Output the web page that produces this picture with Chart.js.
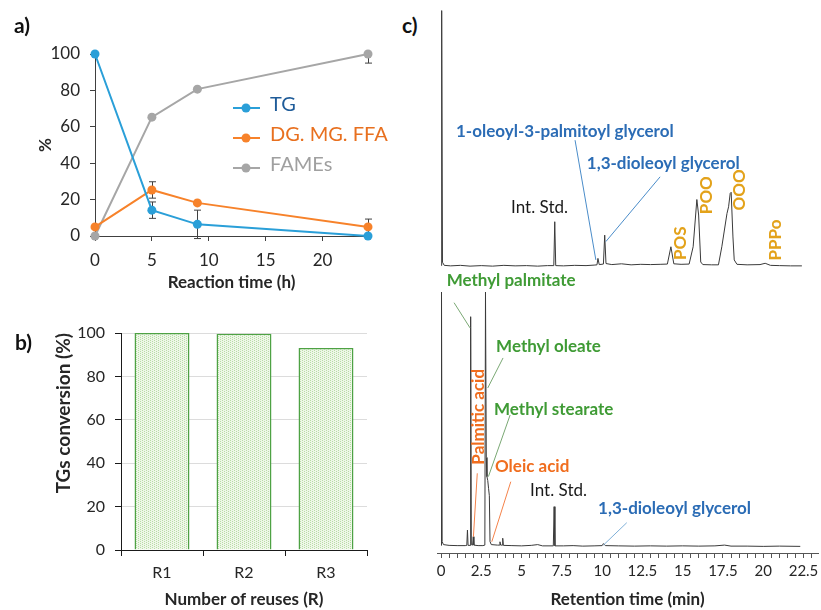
<!DOCTYPE html>
<html lang="en">
<head>
  <meta charset="UTF-8">
  <title>Transesterification kinetics, catalyst reuse and chromatograms</title>
  <script src="https://cdn.jsdelivr.net/npm/chart.js"></script>
  <style>
    body {
      margin: 0;
      background: #fff;
      font-family: Lato, sans-serif;
    }

    #wrap {
      position: relative;
      width: 821px;
      height: 610px;
      overflow: hidden;
    }

    canvas {
      position: absolute;
    }

    .tag {
      position: absolute;
      font: bold 21px Lato, sans-serif;
      color: #111;
      line-height: 25px;
    }
  </style>
</head>
<body>
  <div id="wrap">
    <canvas id="chartA" width="400" height="295" style="left:0;top:0"></canvas>
    <canvas id="chartB" width="400" height="315" style="left:0;top:295px"></canvas>
    <canvas id="chartTop" width="401" height="280" style="left:420px;top:0"></canvas>
    <canvas id="chartBottom" width="401" height="345" style="left:420px;top:265px"></canvas>
    <div class="tag" style="left:14px;top:12px">a)</div>
    <div class="tag" style="left:15px;top:329px">b)</div>
    <div class="tag" style="left:402px;top:12px">c)</div>
  </div>

  <script>
    // a) composition vs reaction time
    const reactionTimes = [0, 5, 9, 24];
    const tgValues = [100, 14.2, 6.4, 0];
    const tgErrors = [0, 4.5, 7.8, 0];
    const dgValues = [5, 25.3, 18.2, 5];
    const dgErrors = [0, 4.5, 0, 4.3];
    const fameValues = [0, 65.3, 80.7, 100];
    const fameErrors = [0, 0, 0, 5];
    const seriesNames = ['TG', 'DG. MG. FFA', 'FAMEs'];

    // b) catalyst reuse
    const reuseLabels = ['R1', 'R2', 'R3'];
    const conversionValues = [100, 99.7, 93.1];

    // c) chromatograms (retention time in min, relative signal)
    const retentionTickLabels = ['0', '2.5', '5', '7.5', '10', '12.5', '15', '17.5', '20', '22.5'];
    const retentionMinorStep = 0.5;
    const retentionMinorCount = 47;

    const topTimes = [0, 0.04, 0.09, 0.2, 0.6, 1.2, 1.8, 2.5, 3.2, 3.9, 4.6, 5.3, 6.0, 6.6,
      7.0, 7.06, 7.12, 7.6, 8.3, 9.0, 9.5, 9.68, 9.74, 9.82, 10.08, 10.16, 10.24, 10.6,
      11.2, 11.8, 12.4, 13.0, 13.6, 14.05, 14.27, 14.45, 14.9, 15.4, 15.65, 15.88, 15.99,
      16.12, 16.25, 16.8, 17.22, 17.43, 17.75, 17.85, 17.95, 18.01, 18.12, 18.2, 18.37,
      19.0, 19.8, 20.12, 20.45, 21.0, 21.7, 22.4];
    const topSignal = [0.3, 99, 1.5, 0.3, 0.1, 0.3, 0, 0.2, 0, 0.3, 0.1, 0.2, 0, 0.2,
      0.2, 17.2, 0.2, 0.1, 0.3, 0.2, 0.4, 0.5, 3.0, 0.6, 0.8, 12.0, 1.0, 0.6,
      0.9, 0.5, 0.7, 0.6, 0.7, 0.8, 7.5, 0.9, 0.7, 0.8, 7.5, 25.8, 19.8,
      1.6, 0.6, 0.5, 0.5, 7.5, 20.4, 23, 28.2, 28.6, 11.3, 2.4, 0.7,
      0.5, 0.6, 1.1, 0.3, 0.2, 0.1, 0.1];

    const bottomTimes = [0, 0.03, 0.07, 0.15, 0.5, 1.0, 1.5, 1.6, 1.64, 1.68, 1.8, 1.84, 1.88,
      1.96, 2.0, 2.04, 2.3, 2.6, 2.72, 2.76, 2.81, 2.85, 2.9, 2.95, 3.0, 3.04, 3.12, 3.5,
      3.62, 3.66, 3.7, 3.79, 3.83, 3.87, 4.4, 5.0, 5.6, 6.0, 6.3, 6.97, 7.02, 7.07, 7.6,
      8.2, 8.8, 9.5, 10.0, 10.08, 10.2, 11.0, 12.0, 13.0, 14.0, 15.0, 16.0, 17.0, 17.6,
      18.0, 19.0, 20.0, 21.0, 22.3];
    const bottomSignal = [0.5, 100, 2, 0.8, 0.5, 0.4, 0.4, 0.5, 6.5, 0.5, 0.5, 90.3, 0.8,
      0.6, 3.9, 0.6, 0.4, 0.4, 0.6, 100, 35, 27.5, 26, 22.9, 20, 2, 0.8, 0.6,
      0.6, 1.9, 0.6, 0.6, 3.3, 0.5, 0.4, 0.3, 0.5, 0.8, 0.3, 0.3, 15.7, 0.3, 0.3,
      0.4, 0.2, 0.3, 0.4, 1.2, 0.4, 0.3, 0.2, 0.3, 0.2, 0.3, 0.2, 0.3, 0.6,
      0.2, 0.2, 0.1, 0.2, 0.1];

    const BLUE = '#2b6cb5', GREEN = '#3f9b35', ORANGE = '#f06d1e', GOLD = '#e3a21a';
    const BOLD = 'bold 17px Lato', PLAIN = '17px Lato';

    // labels and leader lines for the chromatograms, placed in data units
    const topNotes = [
      { text: '1-oleoyl-3-palmitoyl glycerol', t: 0.93, v: 52.1, color: BLUE, font: BOLD },
      { text: '1,3-dioleoyl glycerol', t: 9.05, v: 39.8, color: BLUE, font: BOLD },
      { text: 'Int. Std.', t: 4.35, v: 22.9, color: '#1a1a1a', font: PLAIN },
      { text: 'POS', t: 14.84, v: 8.9, color: GOLD, font: BOLD, vertical: true },
      { text: 'POO', t: 16.5, v: 27.5, color: GOLD, font: BOLD, vertical: true },
      { text: 'OOO', t: 18.55, v: 29.5, color: GOLD, font: BOLD, vertical: true },
      { text: 'PPPo', t: 20.75, v: 10.1, color: GOLD, font: BOLD, vertical: true }
    ];
    const topLeaders = [
      { from: [8.32, 48.8], to: [9.61, 2.4], color: '#4a8cc9' },
      { from: [13.6, 34.6], to: [10.23, 9.5], color: '#4a8cc9' }
    ];
    const bottomNotes = [
      { text: 'Methyl palmitate', t: 0.35, v: 104.4, color: GREEN, font: BOLD },
      { text: 'Methyl oleate', t: 3.42, v: 78.5, color: GREEN, font: BOLD },
      { text: 'Palmitic acid', t: 2.32, v: 51.0, color: ORANGE, font: BOLD, vertical: true },
      { text: 'Methyl stearate', t: 3.29, v: 53.7, color: GREEN, font: BOLD },
      { text: 'Oleic acid', t: 3.35, v: 31.4, color: ORANGE, font: BOLD },
      { text: 'Int. Std.', t: 5.53, v: 22.0, color: '#1a1a1a', font: PLAIN },
      { text: '1,3-dioleoyl glycerol', t: 9.75, v: 15.0, color: BLUE, font: BOLD }
    ];
    const bottomLeaders = [
      { from: [0.81, 95.8], to: [1.8, 85.9], color: '#7aa874' },
      { from: [3.85, 74.1], to: [2.9, 62.3], color: '#7aa874' },
      { from: [2.25, 28.8], to: [2.01, 3.9], color: '#f4824a' },
      { from: [4.29, 51.7], to: [2.94, 27.5], color: '#7aa874' },
      { from: [4.33, 25.5], to: [3.15, 1.9], color: '#f4824a' },
      { from: [11.53, 9.4], to: [10.08, 0.6], color: '#7fb0d8' }
    ];

    Chart.defaults.font.family = 'Lato';
    Chart.defaults.color = '#262626';
    Chart.defaults.animation = false;
    Chart.defaults.plugins.legend.display = false;
    Chart.defaults.plugins.tooltip.enabled = false;

    const toPoints = (xs, ys) => xs.map((x, i) => ({ x: x, y: ys[i] }));

    // ---------- a) ----------
    const errorBars = {
      id: 'errorBars',
      beforeDatasetsDraw(chart) {
        const { ctx, chartArea, scales: { x, y } } = chart;
        ctx.save();
        ctx.beginPath();
        ctx.rect(chartArea.left - 10, chartArea.top, chartArea.width + 20, chartArea.height + 10);
        ctx.clip();
        ctx.strokeStyle = '#404040';
        ctx.lineWidth = 1;
        chart.data.datasets.forEach(ds => {
          ds.data.forEach((p, i) => {
            const e = ds.errors[i];
            if (!e) return;
            const px = Math.round(x.getPixelForValue(p.x)) + 0.5;
            const y1 = y.getPixelForValue(p.y + e);
            const y2 = y.getPixelForValue(p.y - e);
            ctx.beginPath();
            ctx.moveTo(px, y1); ctx.lineTo(px, y2);
            ctx.moveTo(px - 3.5, y1); ctx.lineTo(px + 3.5, y1);
            ctx.moveTo(px - 3.5, y2); ctx.lineTo(px + 3.5, y2);
            ctx.stroke();
          });
        });
        ctx.restore();
      }
    };

    const legendA = {
      id: 'legendA',
      afterDraw(chart) {
        const ctx = chart.ctx;
        const rows = [108, 138, 168];
        const textColors = ['#1f5c99', '#e8701f', '#a0a0a0'];
        ctx.save();
        chart.data.datasets.forEach((ds, i) => {
          const y = rows[i];
          ctx.strokeStyle = ds.borderColor;
          ctx.lineWidth = 2;
          ctx.beginPath();
          ctx.moveTo(233, y); ctx.lineTo(260, y);
          ctx.stroke();
          ctx.fillStyle = ds.borderColor;
          ctx.beginPath();
          ctx.arc(246, y, 4.5, 0, Math.PI * 2);
          ctx.fill();
          ctx.font = '20px Lato';
          ctx.fillStyle = textColors[i];
          ctx.textBaseline = 'middle';
          ctx.fillText(ds.label, 270, y - 3);
        });
        ctx.restore();
      }
    };

    function lineSet(label, values, errors, color) {
      return {
        label: label,
        data: toPoints(reactionTimes, values),
        errors: errors,
        borderColor: color,
        backgroundColor: color,
        borderWidth: 2,
        pointRadius: 4.5,
        pointBorderWidth: 0,
        tension: 0,
        clip: false
      };
    }

    new Chart(document.getElementById('chartA'), {
      type: 'line',
      data: {
        datasets: [
          lineSet(seriesNames[0], tgValues, tgErrors, '#2a9fd8'),
          lineSet(seriesNames[1], dgValues, dgErrors, '#f7822a'),
          lineSet(seriesNames[2], fameValues, fameErrors, '#a6a6a6')
        ]
      },
      options: {
        responsive: false,
        layout: { padding: { top: 54, right: 32, left: 0, bottom: 0 } },
        scales: {
          x: {
            type: 'linear',
            min: 0,
            max: 24,
            afterFit: s => { s.height = 59; },
            afterBuildTicks: s => { s.ticks = s.ticks.filter(t => t.value % 5 === 0); },
            border: { color: '#404040' },
            grid: { drawOnChartArea: false, tickLength: 5, color: '#404040' },
            ticks: { stepSize: 5, padding: 9, font: { size: 17 }, maxRotation: 0 },
            title: { display: true, text: 'Reaction time (h)', font: { size: 17, weight: 'bold' }, padding: { top: 0, bottom: 2 } }
          },
          y: {
            min: 0,
            max: 100,
            afterFit: s => { s.width = 95; },
            border: { color: '#404040' },
            grid: { drawOnChartArea: false, tickLength: 5, color: '#404040' },
            ticks: { stepSize: 20, padding: 10, font: { size: 17 } },
            title: { display: true, text: '%', font: { size: 17, weight: 'bold' }, padding: { top: 35, bottom: 0 } }
          }
        }
      },
      plugins: [errorBars, legendA]
    });

    // ---------- b) ----------
    const tile = document.createElement('canvas');
    tile.width = 4; tile.height = 4;
    const tctx = tile.getContext('2d');
    tctx.fillStyle = '#eef7e8';
    tctx.fillRect(0, 0, 4, 4);
    tctx.fillStyle = '#b9dca6';
    tctx.fillRect(0, 0, 1, 1);
    tctx.fillRect(2, 1, 1, 1);
    tctx.fillRect(0, 2, 1, 1);
    tctx.fillRect(2, 3, 1, 1);
    const barFill = tctx.createPattern(tile, 'repeat');

    new Chart(document.getElementById('chartB'), {
      type: 'bar',
      data: {
        labels: reuseLabels,
        datasets: [{
          data: conversionValues,
          backgroundColor: barFill,
          borderColor: '#4ea244',
          borderWidth: 1.5,
          barPercentage: 0.67,
          categoryPercentage: 1
        }]
      },
      options: {
        responsive: false,
        layout: { padding: { top: 38, right: 33, left: 0, bottom: 0 } },
        scales: {
          x: {
            afterFit: s => { s.height = 60; },
            border: { color: '#1a1a1a' },
            grid: { offset: true, drawOnChartArea: false, tickLength: 6, tickColor: '#1a1a1a' },
            ticks: { padding: 7, font: { size: 16 } },
            title: { display: true, text: 'Number of reuses (R)', font: { size: 17, weight: 'bold' }, padding: { top: 0, bottom: 0 } }
          },
          y: {
            min: 0,
            max: 100,
            afterFit: s => { s.width = 121; },
            border: { color: '#1a1a1a' },
            grid: { color: '#dcdcdc', tickLength: 6, tickColor: '#1a1a1a' },
            ticks: { stepSize: 20, padding: 10, font: { size: 16 } },
            title: { display: true, text: 'TGs conversion (%)', align: 'end', font: { size: 19, weight: 'bold' }, padding: { top: 52, bottom: 0 } }
          }
        }
      }
    });

    // ---------- c) ----------
    function notesPlugin(notes, leaders) {
      return {
        id: 'notes',
        afterDatasetsDraw(chart) {
          const { ctx, scales: { x, y } } = chart;
          ctx.save();
          ctx.lineWidth = 1;
          leaders.forEach(l => {
            ctx.strokeStyle = l.color;
            ctx.beginPath();
            ctx.moveTo(x.getPixelForValue(l.from[0]), y.getPixelForValue(l.from[1]));
            ctx.lineTo(x.getPixelForValue(l.to[0]), y.getPixelForValue(l.to[1]));
            ctx.stroke();
          });
          ctx.textBaseline = 'middle';
          notes.forEach(n => {
            const px = x.getPixelForValue(n.t);
            const py = y.getPixelForValue(n.v);
            ctx.font = n.font;
            ctx.fillStyle = n.color;
            if (n.vertical) {
              ctx.save();
              ctx.translate(px, py);
              ctx.rotate(-Math.PI / 2);
              ctx.textAlign = 'center';
              ctx.fillText(n.text, 0, 0);
              ctx.restore();
            } else {
              ctx.textAlign = 'left';
              ctx.fillText(n.text, px, py);
            }
          });
          ctx.restore();
        }
      };
    }

    function traceSet(xs, ys) {
      return {
        data: toPoints(xs, ys),
        borderColor: '#3a3a3a',
        borderWidth: 1,
        pointRadius: 0,
        tension: 0,
        clip: false
      };
    }

    new Chart(document.getElementById('chartTop'), {
      type: 'line',
      data: { datasets: [traceSet(topTimes, topSignal)] },
      options: {
        responsive: false,
        layout: { padding: { top: 8, right: 3, left: 17, bottom: 10 } },
        scales: {
          x: { type: 'linear', min: -0.25, max: 23.4, display: false },
          y: { min: -1.5, max: 100, display: false }
        }
      },
      plugins: [notesPlugin(topNotes, topLeaders)]
    });

    new Chart(document.getElementById('chartBottom'), {
      type: 'line',
      data: { datasets: [traceSet(bottomTimes, bottomSignal)] },
      options: {
        responsive: false,
        layout: { padding: { top: 27, right: 3, left: 17, bottom: 0 } },
        scales: {
          x: {
            type: 'linear',
            min: -0.25,
            max: 23.4,
            afterFit: s => { s.height = 57; },
            afterBuildTicks: s => {
              const ticks = [];
              for (let i = 0; i < retentionMinorCount; i++) ticks.push({ value: i * retentionMinorStep });
              s.ticks = ticks;
            },
            border: { color: '#555' },
            grid: { drawOnChartArea: false, tickLength: 5, color: '#555' },
            ticks: {
              autoSkip: false,
              maxRotation: 0,
              padding: 4,
              font: { size: 15 },
              callback: (v, i) => (i % 5 === 0 ? retentionTickLabels[i / 5] : '')
            },
            title: { display: true, text: 'Retention time (min)', font: { size: 17, weight: 'bold' }, padding: { top: 0, bottom: 0 } }
          },
          y: { min: -2.5, max: 100, display: false }
        }
      },
      plugins: [notesPlugin(bottomNotes, bottomLeaders)]
    });
  </script>
</body>
</html>
